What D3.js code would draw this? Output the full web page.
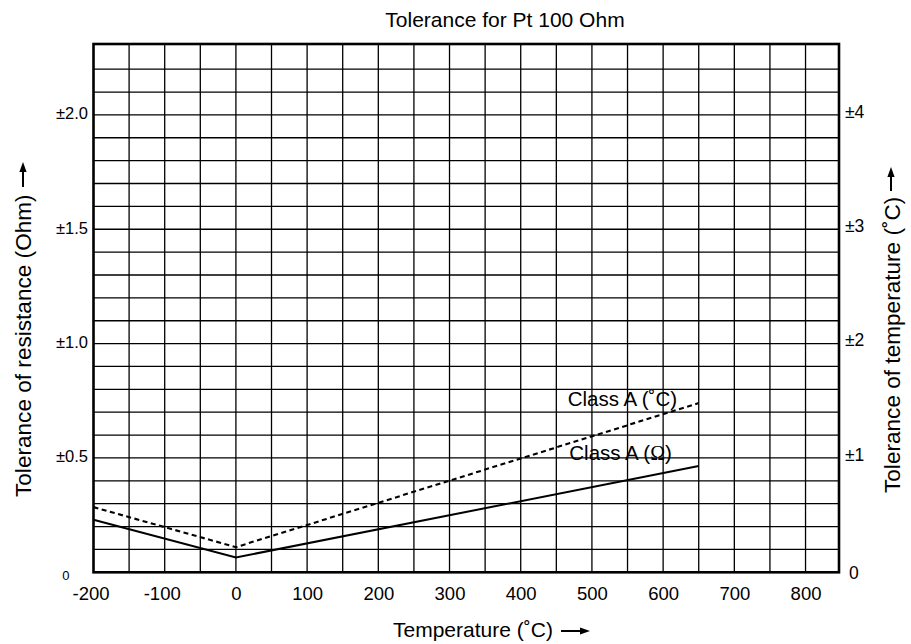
<!DOCTYPE html>
<html>
<head>
<meta charset="utf-8">
<script src="https://cdn.jsdelivr.net/npm/d3@7"></script>
<style>
  html, body { margin: 0; padding: 0; background: #fff; }
  svg { display: block; font-family: "Liberation Sans", Arial, Helvetica, sans-serif; }
</style>
</head>
<body>
<svg id="chart" width="911" height="644"></svg>
<script>
// ---- data ----
const temperatureTicks = [-200, -100, 0, 100, 200, 300, 400, 500, 600, 700, 800];
const ohmTicks = [0, 0.5, 1.0, 1.5, 2.0];
const ohmTickLabels = ["0", "±0.5", "±1.0", "±1.5", "±2.0"];
const degTicks = [0, 1, 2, 3, 4];
const degTickLabels = ["0", "±1", "±2", "±3", "±4"];
const gridTemps = [-150, -100, -50, 0, 50, 100, 150, 200, 250, 300, 350, 400, 450, 500, 550, 600, 650, 700, 750, 800];
const gridOhms = [0.1, 0.2, 0.3, 0.4, 0.5, 0.6, 0.7, 0.8, 0.9, 1.0, 1.1, 1.2, 1.3, 1.4, 1.5, 1.6, 1.7, 1.8, 1.9, 2.0, 2.1, 2.2];
// Class A tolerance in Ohm (solid line)
const classAOhmTemps = [-200, 0, 650];
const classAOhmValues = [0.23, 0.065, 0.465];
// Class A tolerance in degC (dashed line, right axis)
const classADegTemps = [-200, 0, 650];
const classADegValues = [0.57, 0.22, 1.48];

// ---- layout ----
const L = 93.5, R = 839, T = 44, B = 572.3;
const svg = d3.select("#chart");

const x = d3.scaleLinear().domain([-200, 847]).range([L, R]);
const y = d3.scaleLinear().domain([0, 2.31]).range([B, T]);
const yDeg = d3.scaleLinear().domain([0, 4.62]).range([B, T]);

// grid
const grid = svg.append("g").attr("stroke", "#000").attr("stroke-width", 1.3);
grid.selectAll("line.v").data(gridTemps).join("line")
  .attr("x1", d => x(d)).attr("x2", d => x(d)).attr("y1", T).attr("y2", B);
grid.selectAll("line.h").data(gridOhms).join("line")
  .attr("x1", L).attr("x2", R).attr("y1", d => y(d)).attr("y2", d => y(d));

// frame
svg.append("rect").attr("x", L).attr("y", T).attr("width", R - L).attr("height", B - T)
  .attr("fill", "none").attr("stroke", "#000").attr("stroke-width", 2.6);

// lines
const ohmLine = d3.line().x(d => x(d[0])).y(d => y(d[1]));
const degLine = d3.line().x(d => x(d[0])).y(d => yDeg(d[1]));
svg.append("path").datum(d3.zip(classAOhmTemps, classAOhmValues))
  .attr("d", ohmLine).attr("fill", "none").attr("stroke", "#000").attr("stroke-width", 2);
svg.append("path").datum(d3.zip(classADegTemps, classADegValues))
  .attr("d", degLine).attr("fill", "none").attr("stroke", "#000").attr("stroke-width", 2.1)
  .attr("stroke-dasharray", "5,3.5");

// axes
const xAxis = d3.axisBottom(x).tickValues(temperatureTicks).tickFormat(d => String(d))
  .tickSize(0).tickPadding(14.5);
const gx = svg.append("g").attr("transform", `translate(0,${B})`).call(xAxis);
gx.select(".domain").remove();
gx.selectAll("text").attr("font-size", 18.5).attr("fill", "#000")
  .attr("font-family", "'Liberation Sans', Arial, sans-serif")
  .attr("dx", d => d < 0 ? -3 : 0);

const yAxisL = d3.axisLeft(y).tickValues(ohmTicks).tickFormat((d, i) => ohmTickLabels[i])
  .tickSize(0).tickPadding(6);
const gyl = svg.append("g").attr("transform", `translate(${L},0)`).call(yAxisL);
gyl.select(".domain").remove();
gyl.selectAll("text").attr("fill", "#000").attr("font-family", "'Liberation Sans', Arial, sans-serif")
  .attr("font-size", d => d === 0 ? 13 : 16.5)
  .attr("x", d => d === 0 ? -24 : -5.5)
  .attr("y", d => d === 0 ? 3.5 : -1.5);

const yAxisR = d3.axisRight(yDeg).tickValues(degTicks).tickFormat((d, i) => degTickLabels[i])
  .tickSize(0).tickPadding(6);
const gyr = svg.append("g").attr("transform", `translate(${R},0)`).call(yAxisR);
gyr.select(".domain").remove();
gyr.selectAll("text").attr("fill", "#000").attr("font-family", "'Liberation Sans', Arial, sans-serif")
  .attr("font-size", 17.5)
  .attr("x", d => d === 0 ? 10 : 6)
  .attr("y", d => d === 0 ? 1 : -3.5);

// titles
svg.append("text").attr("x", 505).attr("y", 27).attr("text-anchor", "middle")
  .attr("font-size", 21).text("Tolerance for Pt 100 Ohm");

svg.append("text").attr("x", 393).attr("y", 637).attr("font-size", 21)
  .text("Temperature (˚C)");

svg.append("text").attr("transform", "translate(31,497) rotate(-90)")
  .attr("font-size", 22.6).text("Tolerance of resistance (Ohm)");
svg.append("text").attr("transform", "translate(900,493) rotate(-90)")
  .attr("font-size", 22.6).text("Tolerance of temperature (˚C)");

// arrows
function arrow(x1, y1, x2, y2) {
  const a = Math.atan2(y2 - y1, x2 - x1);
  const len = 10, w = 3.6;
  const bx = x2 - len * Math.cos(a), by = y2 - len * Math.sin(a);
  svg.append("line").attr("x1", x1).attr("y1", y1).attr("x2", bx + 1 * Math.cos(a)).attr("y2", by + 1 * Math.sin(a))
    .attr("stroke", "#000").attr("stroke-width", 2);
  svg.append("path").attr("d",
    `M${x2},${y2}L${bx + w * Math.sin(a)},${by - w * Math.cos(a)}L${bx - w * Math.sin(a)},${by + w * Math.cos(a)}Z`)
    .attr("fill", "#000");
}
arrow(561, 631, 590, 631);
arrow(23, 187, 23, 162);
arrow(891, 191, 891, 167);

// series labels
svg.append("text").attr("x", 567.7).attr("y", 406).attr("font-size", 20.5).text("Class A (˚C)");
const lab2 = svg.append("text").attr("x", 569.3).attr("y", 460).attr("font-size", 20.5);
lab2.append("tspan").text("Class A (");
lab2.append("tspan").attr("font-family", "'Liberation Serif', 'DejaVu Serif', serif").attr("font-size", 20).text("Ω");
lab2.append("tspan").text(")");
</script>
</body>
</html>
